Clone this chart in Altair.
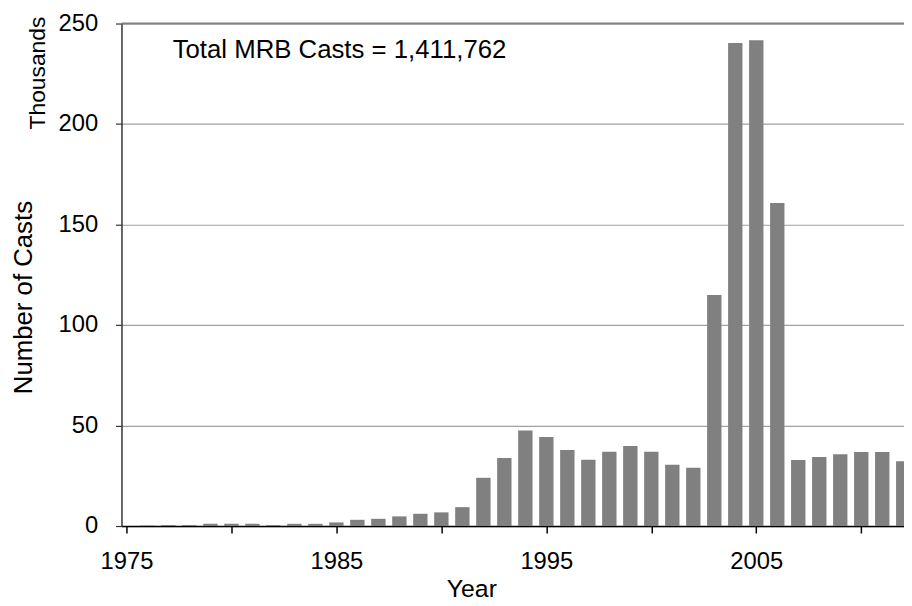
import altair as alt
import pandas as pd

years = list(range(1976, 2013))
casts_thousands = [
    0.3, 0.5, 0.5, 1.1, 1.1, 1.1, 0.5, 1.1, 1.1, 1.8,
    3.1, 3.6, 4.8, 6.1, 6.8, 9.4, 24.0, 33.9, 47.5, 44.3,
    37.8, 33.0, 37.0, 39.8, 37.0, 30.5, 29.0, 115.0, 240.3, 241.7,
    160.7, 32.9, 34.3, 35.7, 36.8, 36.8, 32.2,
]
x_tick_values = [1975, 1980, 1985, 1990, 1995, 2000, 2005, 2010]
y_tick_values = [0, 50, 100, 150, 200, 250]
annotation_text = ["Total MRB Casts = 1,411,762"]
annotation_year = [1977.2]
annotation_value = [237]

FONT = "Liberation Sans"
PX_DOMAIN = [1975, 2011.8]

df = pd.DataFrame({"Year": years, "Casts": casts_thousands})
ann = pd.DataFrame({"label": annotation_text, "Year": annotation_year, "Casts": annotation_value})

x_scale = alt.Scale(domain=PX_DOMAIN, nice=False, zero=False)
y_scale = alt.Scale(domain=[0, 250], nice=False)

bars = alt.Chart(df).mark_bar(color="#808080", size=14.5, clip=True).encode(
    x=alt.X(
        "Year:Q",
        scale=x_scale,
        axis=alt.Axis(
            values=x_tick_values,
            labelExpr="(datum.value - 1975) % 10 == 0 ? format(datum.value, 'd') : ''",
            labelFlush=False,
            labelOverlap=False,
            grid=False,
            domainColor="#000000",
            domainWidth=1.5,
            tickColor="#000000",
            tickWidth=1.5,
            tickSize=7,
            labelPadding=17,
            labelFont=FONT,
            labelFontSize=24,
            labelColor="#000000",
            title="Year",
            titleFont=FONT,
            titleFontSize=25,
            titleFontWeight="normal",
            titleColor="#000000",
            titleX=353,
            titleY=63,
            titleAlign="center",
            titleBaseline="middle",
        ),
    ),
    y=alt.Y(
        "Casts:Q",
        scale=y_scale,
        axis=alt.Axis(
            values=y_tick_values,
            grid=True,
            gridColor="#a0a0a0",
            gridWidth=1.2,
            domainColor="#333333",
            domainWidth=1.5,
            tickColor="#333333",
            tickWidth=1.2,
            tickSize=6,
            labelPadding=18,
            labelFont=FONT,
            labelFontSize=24,
            labelColor="#000000",
            title="Number of Casts",
            titleFont=FONT,
            titleFontSize=26,
            titleFontWeight="normal",
            titleColor="#000000",
            titleX=-99,
            titleY=276,
            titleAlign="center",
            titleBaseline="middle",
            titleAngle=270,
        ),
    ),
)

top_rule = alt.Chart(pd.DataFrame({"v": [250]})).mark_rule(color="#808080", strokeWidth=2).encode(
    y=alt.Y("v:Q", scale=y_scale)
)

annotation = alt.Chart(ann).mark_text(
    align="left", baseline="middle", font=FONT, fontSize=26, color="#000000"
).encode(
    x=alt.X("Year:Q", scale=x_scale),
    y=alt.Y("Casts:Q", scale=y_scale),
    text="label:N",
)

thousands = alt.Chart(pd.DataFrame({"t": ["Thousands"]})).mark_text(
    angle=270, align="center", baseline="middle", font=FONT, fontSize=23, color="#000000"
).encode(
    x=alt.value(-84),
    y=alt.value(50),
    text="t:N",
)

chart = alt.layer(bars, top_rule, annotation, thousands).properties(
    width=789.5,
    height=507,
    autosize=alt.AutoSizeParams(type="none"),
    padding={"left": 114.5, "top": 13, "right": 0, "bottom": 76},
).configure_view(stroke=None)

chart.save("out.html", embed_options={"renderer": "svg", "actions": False})
